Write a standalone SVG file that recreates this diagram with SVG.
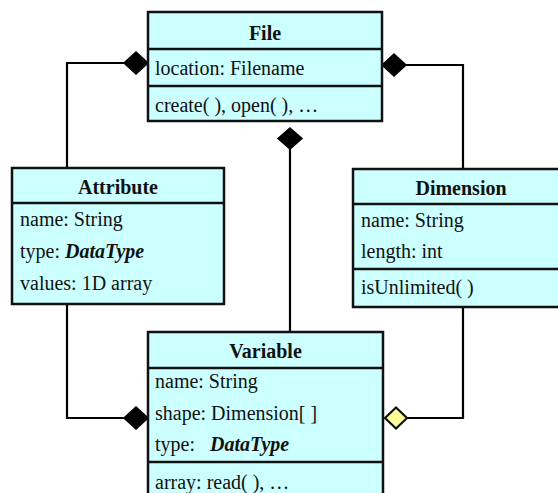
<svg xmlns="http://www.w3.org/2000/svg" width="558" height="493" viewBox="0 0 558 493">
<style>
.box{fill:#ccffff;stroke:#111;stroke-width:2.5}
.div{stroke:#111;stroke-width:2.5}
.t{font-family:"Liberation Serif","Times New Roman","DejaVu Serif",serif;font-size:20px;fill:#111}
.h{font-weight:bold;text-anchor:middle}
.bi{font-weight:bold;font-style:italic}
.ln{fill:none;stroke:#000;stroke-width:2.2}
.fd{fill:#000;stroke:#000;stroke-width:1.5}
.hd{fill:#ffff99;stroke:#111;stroke-width:2.2}
</style>
<rect width="558" height="493" fill="#fff"/>
<g id="connectors">
<polyline class="ln" points="124,63 67,63 67,168"/>
<path class="fd" d="M148,63 L136,52 L124,63 L136,74 Z"/>
<polyline class="ln" points="406,65 463,65 463,169"/>
<path class="fd" d="M382,65 L394,54 L406,65 L394,76 Z"/>
<line class="ln" x1="290" y1="149" x2="290" y2="332"/>
<path class="fd" d="M290,128 L302,138.5 L290,149 L278,138.5 Z"/>
<polyline class="ln" points="124,418 67,418 67,304"/>
<path class="fd" d="M148,418 L136,407 L124,418 L136,429 Z"/>
<polyline class="ln" points="407,418 463,418 463,307"/>
<path class="hd" d="M385,418 L396,407.5 L407,418 L396,428.5 Z"/>
</g>
<g id="File">
<rect class="box" x="148" y="12" width="234" height="109"/>
<line class="div" x1="148" y1="49" x2="382" y2="49"/>
<line class="div" x1="148" y1="86" x2="382" y2="86"/>
<text class="t h" x="265" y="40">File</text>
<text class="t" x="155" y="75">location: Filename</text>
<text class="t" x="155" y="112">create( ), open( ), …</text>
</g>
<g id="Attribute">
<rect class="box" x="12" y="168" width="212" height="136"/>
<line class="div" x1="12" y1="203" x2="224" y2="203"/>
<text class="t h" x="118" y="194">Attribute</text>
<text class="t" x="20" y="226">name: String</text>
<text class="t" x="20" y="258">type: <tspan class="bi">DataType</tspan></text>
<text class="t" x="20" y="290">values: 1D array</text>
</g>
<g id="Dimension">
<rect class="box" x="353" y="169" width="215" height="138"/>
<line class="div" x1="353" y1="204" x2="568" y2="204"/>
<line class="div" x1="353" y1="269" x2="568" y2="269"/>
<text class="t h" x="461" y="195">Dimension</text>
<text class="t" x="361" y="227">name: String</text>
<text class="t" x="361" y="258">length: int</text>
<text class="t" x="361" y="294">isUnlimited( )</text>
</g>
<g id="Variable">
<rect class="box" x="148" y="332" width="235" height="175"/>
<line class="div" x1="148" y1="368" x2="383" y2="368"/>
<line class="div" x1="148" y1="462" x2="383" y2="462"/>
<text class="t h" x="265.5" y="358">Variable</text>
<text class="t" x="155" y="388">name: String</text>
<text class="t" x="155" y="420">shape: Dimension[ ]</text>
<text class="t" x="155" y="451">type:</text>
<text class="t bi" x="210" y="451">DataType</text>
<text class="t" x="155" y="489">array: read( ), …</text>
</g>
</svg>
